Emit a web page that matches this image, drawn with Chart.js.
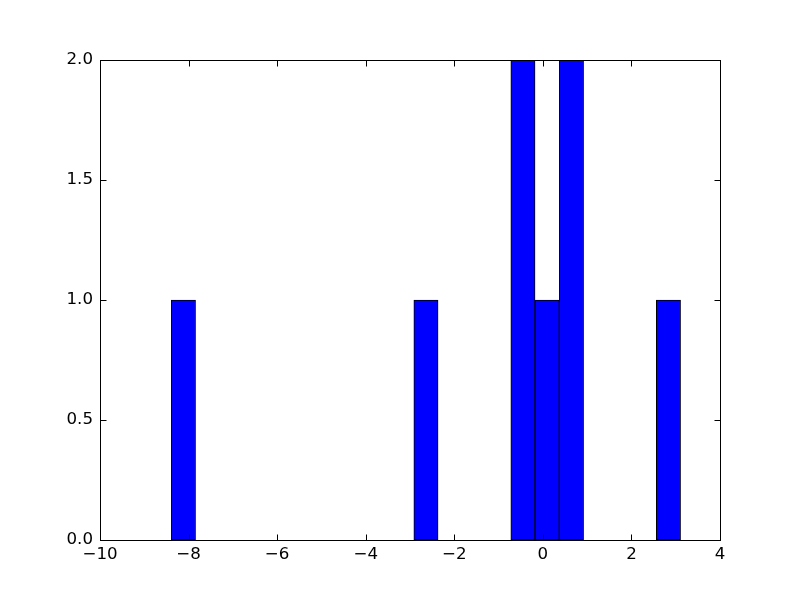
<!DOCTYPE html>
<html>
<head>
<meta charset="utf-8">
<script src="https://cdn.jsdelivr.net/npm/chart.js@4/dist/chart.umd.min.js"></script>
<style>
  html, body { margin: 0; padding: 0; background: #fff; }
  #wrap { width: 800px; height: 600px; }
</style>
</head>
<body>
<div id="wrap"><canvas id="hist"></canvas></div>
<script>
// Histogram, 21 equal bins; centres and counts.
var binCenters = [-8.116, -7.569, -7.021, -6.474, -5.926, -5.378, -4.831,
                  -4.283, -3.735, -3.188, -2.640, -2.092, -1.545, -0.997,
                  -0.450, 0.098, 0.646, 1.193, 1.741, 2.289, 2.836];
var counts = [1, 0, 0, 0, 0, 0, 0, 0, 0, 0, 1, 0, 0, 0, 2, 1, 2, 0, 0, 0, 1];
var xTicks = [-10, -8, -6, -4, -2, 0, 2, 4];
var yTicks = [0, 0.5, 1, 1.5, 2];

var FONT = { family: "'DejaVu Sans', sans-serif", size: 16.67 };

function minusSign(s) { return String(s).replace("-", "\u2212"); }

// matplotlib-style frame: box round the plot area plus inward ticks on all
// four sides, drawn on top of the bars.
var framePlugin = {
  id: "frame",
  afterDatasetsDraw: function (chart) {
    var a = chart.chartArea, c = chart.ctx;
    var xs = chart.scales.x, ys = chart.scales.y;
    var L = Math.round(a.left) + 0.5, R = Math.round(a.right) + 0.5;
    var T = Math.round(a.top) + 0.5, B = Math.round(a.bottom) + 0.5;
    var len = 6;
    c.save();
    c.strokeStyle = "#000";
    c.lineWidth = 1;
    c.beginPath();
    xTicks.forEach(function (v) {
      var px = Math.round(xs.getPixelForValue(v)) + 0.5;
      c.moveTo(px, B); c.lineTo(px, B - len);
      c.moveTo(px, T); c.lineTo(px, T + len);
    });
    yTicks.forEach(function (v) {
      var py = Math.round(ys.getPixelForValue(v)) + 0.5;
      c.moveTo(L, py); c.lineTo(L + len, py);
      c.moveTo(R, py); c.lineTo(R - len, py);
    });
    c.stroke();
    c.strokeRect(L, T, R - L, B - T);
    c.restore();
  }
};

new Chart(document.getElementById("hist").getContext("2d"), {
  type: "bar",
  plugins: [framePlugin],
  data: {
    datasets: [{
      data: binCenters.map(function (x, i) { return { x: x, y: counts[i] }; }),
      backgroundColor: "#0000ff",
      borderColor: "#000000",
      borderWidth: 1,
      borderSkipped: false,
      barPercentage: 1,
      categoryPercentage: 1
    }]
  },
  options: {
    responsive: true,
    maintainAspectRatio: false,
    animation: false,
    layout: { padding: { left: 0, top: 60, right: 80, bottom: 0 } },
    plugins: { legend: { display: false }, tooltip: { enabled: false } },
    scales: {
      x: {
        type: "linear",
        min: -10, max: 4,
        offset: false,
        grid: { display: false, drawTicks: false },
        border: { display: false },
        afterFit: function (s) { s.height = 60; },
        afterBuildTicks: function (s) { s.ticks = xTicks.map(function (v) { return { value: v }; }); },
        ticks: {
          color: "#000", font: FONT, padding: 5, maxRotation: 0,
          callback: function (v) { return minusSign(v); }
        }
      },
      y: {
        min: 0, max: 2,
        grid: { display: false, drawTicks: false },
        border: { display: false },
        afterFit: function (s) { s.width = 100; },
        afterBuildTicks: function (s) { s.ticks = yTicks.map(function (v) { return { value: v }; }); },
        ticks: {
          color: "#000", font: FONT, padding: 7,
          callback: function (v) { return Number(v).toFixed(1); }
        }
      }
    }
  }
});
</script>
</body>
</html>
